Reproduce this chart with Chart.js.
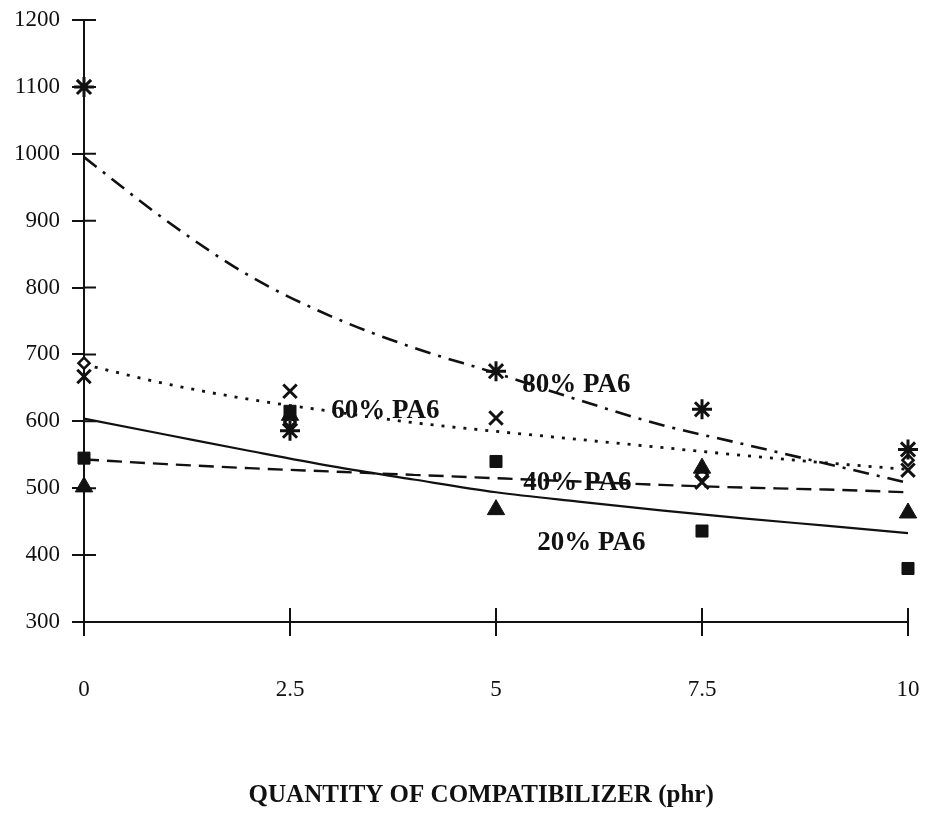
<!DOCTYPE html>
<html lang="en">
<head>
  <meta charset="utf-8">
  <title>Quantity of compatibilizer</title>
  <script src="https://cdn.jsdelivr.net/npm/chart.js"></script>
  <style>
    * { box-sizing:border-box; margin:0; padding:0 }
    body { background:#fff; width:926px; height:813px; overflow:hidden }
    #wrap { position:relative; width:926px; height:813px }
  </style>
</head>
<body>
  <div id="wrap"><canvas id="c" width="926" height="813"></canvas></div>

  <script>
  // ===== DATA =====
  const xCats   = [0, 2.5, 5, 7.5, 10];
  const pa20pts = [545, 615, 540, 436, 380];   // squares
  const pa40pts = [502, 609, 468, 530, 463];   // triangles
  const pa60pts = [667, 645, 605, 509, 527];   // x marks
  const pa80pts = [1100, 586, 675, 618, 558];  // asterisks
  const openPts = [687, 599, null, 520, 542];  // small open diamonds

  // trend curves
  const fitX  = [0, 1, 2, 3, 4, 5, 6, 7, 8, 9, 10];
  const fit20 = [604, 580, 556, 533, 513, 494, 480, 467, 455, 444, 433];
  const fit40 = [543, 536, 530, 525, 520, 515, 510, 505, 501, 498, 494];
  const fit60 = [685, 656, 633, 615, 598, 585, 573, 561, 549, 538, 528];
  const fit80 = [995, 900, 818, 757, 710, 672, 632, 595, 566, 537, 508];

  const curveLabels = ['80% PA6', '60% PA6', '40% PA6', '20% PA6'];
  const labelAt     = [[5.32, 654], [3.0, 615], [5.33, 508], [5.5, 418]];

  const yTicks = [300, 400, 500, 600, 700, 800, 900, 1000, 1100, 1200];
  const xTitle = 'QUANTITY OF COMPATIBILIZER (phr)';

  // ===== helpers =====
  const SERIF = '"Liberation Serif", "Times New Roman", serif';
  const INK = '#111';
  const pts = (xs, ys) => xs.map((x, i) => ({ x, y: ys[i] }));

  function curve(ys, dash, width) {
    return {
      type:'line', data:pts(fitX, ys), borderColor:INK, borderWidth:width,
      borderDash:dash, pointRadius:0, cubicInterpolationMode:'monotone',
      fill:false, clip:false
    };
  }
  function marks(ys, style, r, filled, bw) {
    return {
      type:'scatter', data:pts(xCats, ys), pointStyle:style, pointRadius:r,
      pointBorderWidth:bw, pointBorderColor:INK,
      pointBackgroundColor: filled ? INK : '#fff', showLine:false, clip:false
    };
  }

  // cross ticks on the inner side of the axes, curve labels, axis title
  const extras = {
    id:'extras',
    beforeDatasetsDraw(chart) {
      const { ctx, scales:{ x, y } } = chart;
      ctx.save();
      ctx.fillStyle = INK;
      ctx.font = 'bold 27px ' + SERIF;
      ctx.textBaseline = 'middle';
      curveLabels.forEach((t, i) => {
        ctx.fillText(t, x.getPixelForValue(labelAt[i][0]), y.getPixelForValue(labelAt[i][1]));
      });
      ctx.restore();
    },
    afterDraw(chart) {
      const { ctx, chartArea:a, scales:{ x, y } } = chart;
      ctx.save();
      ctx.strokeStyle = INK; ctx.lineWidth = 2;
      ctx.beginPath();
      y.ticks.forEach(t => {
        const p = y.getPixelForValue(t.value);
        ctx.moveTo(a.left, p); ctx.lineTo(a.left + 12, p);
      });
      x.ticks.forEach(t => {
        const p = x.getPixelForValue(t.value);
        ctx.moveTo(p, a.bottom); ctx.lineTo(p, a.bottom - 14);
      });
      ctx.stroke();
      // axis title (sits a little left of the plot centre in the original)
      ctx.fillStyle = INK;
      ctx.font = 'bold 25px ' + SERIF;
      ctx.textAlign = 'center';
      ctx.textBaseline = 'middle';
      ctx.fillText(xTitle, a.left + (a.right - a.left) * 0.482, 796);
      ctx.restore();
    }
  };

  new Chart(document.getElementById('c'), {
    data:{
      datasets:[
        marks(pa20pts, 'rect', 8.5, true, 1),
        marks(pa40pts, 'triangle', 10, true, 1),
        marks(pa60pts, 'crossRot', 9.5, false, 3),
        marks(pa80pts, 'star', 10, false, 3),
        marks(openPts, 'rectRot', 5.5, false, 2.5),
        curve(fit20, [], 2.2),
        curve(fit40, [15, 8], 2.4),
        curve(fit60, [3, 8], 2.8),
        curve(fit80, [16, 8, 3, 8], 2.6)
      ]
    },
    options:{
      responsive:false, animation:false, devicePixelRatio:1,
      layout:{ padding:{ top:20, right:18, left:0, bottom:0 } },
      plugins:{ legend:{ display:false }, tooltip:{ enabled:false } },
      scales:{
        x:{
          type:'linear', min:0, max:10,
          afterFit(s) { s.height = 191; s.paddingLeft = 0; s.paddingRight = 0; },
          afterBuildTicks(s) { s.ticks = xCats.map(v => ({ value:v })); },
          border:{ display:true, color:INK, width:2 },
          grid:{ drawOnChartArea:false, tickLength:14, color:INK, lineWidth:2 },
          ticks:{ padding:40, maxRotation:0, color:INK, font:{ family:SERIF, size:23 },
                  callback:v => String(v) }
        },
        y:{
          type:'linear', min:300, max:1200,
          afterFit(s) { s.width = 84; s.paddingTop = 0; s.paddingBottom = 0; },
          afterBuildTicks(s) { s.ticks = yTicks.map(v => ({ value:v })); },
          border:{ display:true, color:INK, width:2 },
          grid:{ drawOnChartArea:false, tickLength:12, color:INK, lineWidth:2 },
          ticks:{ padding:12, color:INK, font:{ family:SERIF, size:23 },
                  callback:v => String(v) }
        }
      }
    },
    plugins:[extras]
  });
  </script>
</body>
</html>
